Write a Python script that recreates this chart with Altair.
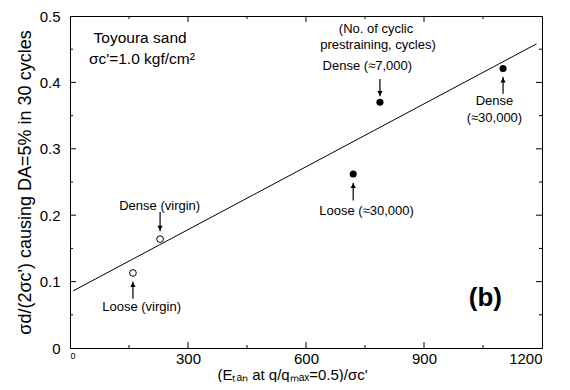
import altair as alt
import pandas as pd

# ---- data ----
virgin_x = [160, 229]
virgin_y = [0.113, 0.164]
pre_x = [720, 788, 1101]
pre_y = [0.262, 0.370, 0.421]
fit_x = [8, 1186]
fit_y = [0.086, 0.458]

arrow_x = [160, 229, 720, 788, 1101]
arrow_tail = [0.074, 0.205, 0.222, 0.405, 0.383]
arrow_tip = [0.100, 0.176, 0.249, 0.379, 0.408]
arrow_dir = ["up", "down", "up", "down", "up"]

label_text = ["Dense (virgin)", "Loose (virgin)", "Loose (≈30,000)", "Dense (≈7,000)",
              "(No. of cyclic", "prestraining, cycles)", "Dense", "(≈30,000)"]
label_x = [228, 182, 754, 756, 778, 783, 1079, 1079]
label_y = [0.214, 0.061, 0.206, 0.425, 0.480, 0.456, 0.372, 0.346]

note_text = ["Toyoura sand", "σc'=1.0 kgf/cm²"]
note_x = [60, 48]
note_y = [0.467, 0.435]

panel_text = ["(b)"]
panel_x = [1056]
panel_y = [0.075]

x_ticks = [0, 300, 600, 900, 1200]
x_major = [300, 600, 900]
x_minor = [150, 450, 750, 1050]
y_ticks = [0, 0.1, 0.2, 0.3, 0.4, 0.5]
y_major = [0.1, 0.2, 0.3, 0.4]
y_minor = [0.05, 0.15, 0.25, 0.35, 0.45]

W, H = 472, 332
FONT = "Liberation Sans"

xs = alt.Scale(domain=[0, 1200], nice=False, zero=False)
ys = alt.Scale(domain=[0, 0.5], nice=False, zero=False)

x_axis = alt.Axis(values=x_ticks, ticks=False, grid=False, domainColor="black",
                  labelColor="black", labelFont=FONT,
                  labelFontSize=alt.condition("datum.value == 0", alt.value(9), alt.value(15)),
                  labelExpr="format(datum.value, 'd')",
                  labelPadding=3, title="(Eₜₐₙ at q/qₘₐₓ=0.5)/σc'",
                  titleFont=FONT, titleFontSize=15, titleFontWeight="normal",
                  titleColor="black", titlePadding=1, titleX=222)
y_axis = alt.Axis(values=y_ticks, ticks=False, grid=False, domainColor="black",
                  labelColor="black", labelFont=FONT, labelFontSize=15,
                  labelExpr="datum.value == 0 ? '0' : format(datum.value, '.1f')",
                  labelPadding=10, title="σd/(2σc') causing DA=5% in 30 cycles",
                  titleFont=FONT, titleFontSize=18, titleFontWeight="normal",
                  titleColor="black", titlePadding=5)


def X(f):
    return alt.X(f, scale=xs, axis=x_axis)


def Y(f):
    return alt.Y(f, scale=ys, axis=y_axis)


fit_df = pd.DataFrame({"x": fit_x, "y": fit_y})
line = alt.Chart(fit_df).mark_line(color="black", strokeWidth=1).encode(x=X("x:Q"), y=Y("y:Q"))

virgin = alt.Chart(pd.DataFrame({"x": virgin_x, "y": virgin_y})).mark_point(
    shape="circle", filled=False, color="black", size=45, strokeWidth=1, opacity=1
).encode(x=X("x:Q"), y=Y("y:Q"))

pre = alt.Chart(pd.DataFrame({"x": pre_x, "y": pre_y})).mark_point(
    shape="circle", filled=True, color="black", size=50, opacity=1
).encode(x=X("x:Q"), y=Y("y:Q"))

arr_df = pd.DataFrame({"x": arrow_x, "y0": arrow_tail, "y1": arrow_tip, "d": arrow_dir})
shafts = alt.Chart(arr_df).mark_rule(color="black", strokeWidth=1.2).encode(
    x=X("x:Q"), y=Y("y0:Q"), y2="y1:Q")
heads_up = alt.Chart(arr_df).transform_filter("datum.d == 'up'").mark_point(
    shape="triangle-up", filled=True, color="black", size=28, opacity=1, yOffset=3
).encode(x=X("x:Q"), y=Y("y1:Q"))
heads_dn = alt.Chart(arr_df).transform_filter("datum.d == 'down'").mark_point(
    shape="triangle-down", filled=True, color="black", size=28, opacity=1, yOffset=-3
).encode(x=X("x:Q"), y=Y("y1:Q"))

labels = alt.Chart(pd.DataFrame({"x": label_x, "y": label_y, "t": label_text})).mark_text(
    font=FONT, fontSize=13, color="black", align="center", baseline="middle"
).encode(x=X("x:Q"), y=Y("y:Q"), text="t:N")

notes = alt.Chart(pd.DataFrame({"x": note_x, "y": note_y, "t": note_text})).mark_text(
    font=FONT, fontSize=15.5, color="black", align="left", baseline="middle"
).encode(x=X("x:Q"), y=Y("y:Q"), text="t:N")

panel = alt.Chart(pd.DataFrame({"x": panel_x, "y": panel_y, "t": panel_text})).mark_text(
    font=FONT, fontSize=26, fontWeight="bold", color="black", align="center", baseline="middle"
).encode(x=X("x:Q"), y=Y("y:Q"), text="t:N")


# inward frame ticks
def xt(vals, y_a, y_b):
    return alt.Chart(pd.DataFrame({"v": vals})).mark_rule(color="black", strokeWidth=1).encode(
        x=X("v:Q"), y=alt.value(y_a), y2=alt.value(y_b))


def yt(vals, x_a, x_b):
    return alt.Chart(pd.DataFrame({"v": vals})).mark_rule(color="black", strokeWidth=1).encode(
        y=Y("v:Q"), x=alt.value(x_a), x2=alt.value(x_b))


ticks = [
    xt(x_major, H, H - 6), xt(x_minor, H, H - 3),
    xt(x_major, 0, 6), xt(x_minor, 0, 3),
    yt(y_major, 0, 6), yt(y_minor, 0, 3),
    yt(y_major, W, W - 6), yt(y_minor, W, W - 3),
]

chart = alt.layer(line, *ticks, shafts, heads_up, heads_dn, virgin, pre, labels, notes, panel).properties(
    width=W, height=H,
    autosize=alt.AutoSizeParams(type="none"),
    padding={"left": 62, "top": 8, "right": 20, "bottom": 34},
    background="white",
).configure_view(stroke="black", strokeWidth=1)

chart.save("out.html", embed_options={"renderer": "svg", "actions": False})
